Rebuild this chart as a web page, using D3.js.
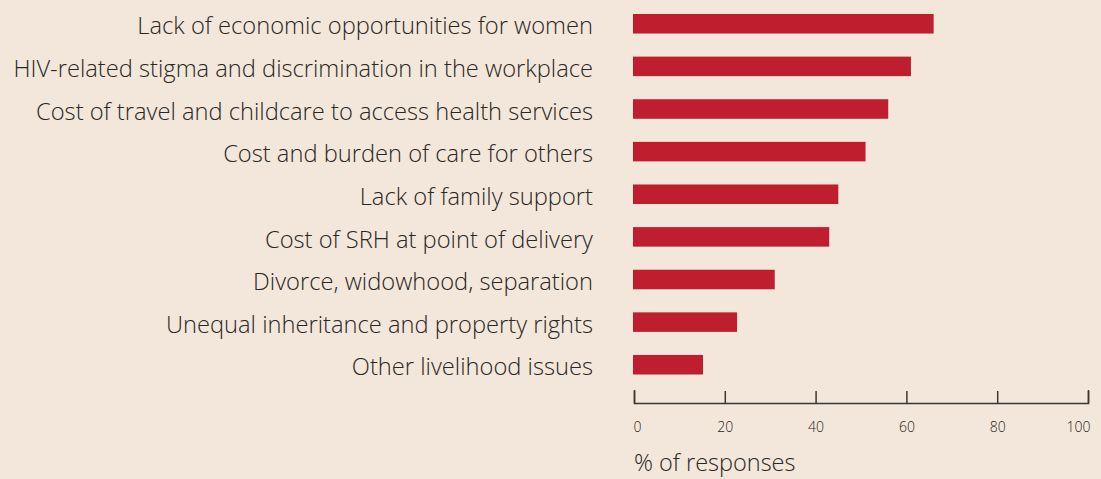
<!DOCTYPE html>
<html>
<head>
<meta charset="utf-8">
<script src="https://cdn.jsdelivr.net/npm/d3@7"></script>
<style>
  html, body { margin: 0; padding: 0; background: #f2e7da; }
  svg { display: block; }
  text { font-family: "Open Sans", Lato, sans-serif; font-weight: 300; fill: #2a2624; }
</style>
</head>
<body>
<div id="chart"></div>
<script>
// Livelihood barriers reported, % of responses
const categories = [
  "Lack of economic opportunities for women",
  "HIV-related stigma and discrimination in the workplace",
  "Cost of travel and childcare to access health services",
  "Cost and burden of care for others",
  "Lack of family support",
  "Cost of SRH at point of delivery",
  "Divorce, widowhood, separation",
  "Unequal inheritance and property rights",
  "Other livelihood issues"
];
const values = [66, 61, 56, 51, 45, 43, 31, 22.7, 15.2];
const tickValues = [0, 20, 40, 60, 80, 100];
const axisTitle = "% of responses";

const width = 1101, height = 479;
const svg = d3.select("#chart").append("svg")
  .attr("width", width).attr("height", height);

svg.append("rect").attr("width", width).attr("height", height).attr("fill", "#f2e7da");

const x = d3.scaleLinear().domain([0, 100]).range([634, 1088]);
const y = d3.scaleBand().domain(categories).range([14, 374.5])
  .paddingInner(0.542).paddingOuter(0);

// bars
svg.append("g").selectAll("rect")
  .data(categories.map((c, i) => ({ c, v: values[i] })))
  .join("rect")
  .attr("x", x(0) - 1)
  .attr("y", d => y(d.c))
  .attr("width", d => x(d.v) - x(0) + 1)
  .attr("height", y.bandwidth())
  .attr("fill", "#be1e2d");

// category labels
svg.append("g").selectAll("text")
  .data(categories)
  .join("text")
  .attr("x", 593)
  .attr("y", d => y(d) + y.bandwidth() / 2)
  .attr("dy", "0.45em")
  .attr("text-anchor", "end")
  .style("font-size", "23.7px")
  .text(d => d);

// x axis, ticks pointing up
const axis = d3.axisBottom(x)
  .tickValues(tickValues)
  .tickSizeInner(-12)
  .tickSizeOuter(-13)
  .tickPadding(19)
  .tickFormat(d3.format("d"));

const gx = svg.append("g")
  .attr("transform", "translate(0,403)")
  .call(axis);
gx.selectAll("path, line").attr("stroke", "#3a3634").attr("stroke-width", 1.5);
gx.selectAll("text")
  .style("font-family", "'Open Sans', Lato, sans-serif")
  .style("font-weight", 300)
  .style("font-size", "14px")
  .attr("fill", "#2a2624")
  .attr("text-anchor", (d, i, n) => i === 0 ? "start" : (i === n.length - 1 ? "end" : "middle"))
  .attr("dx", (d, i, n) => i === 0 ? "-1px" : (i === n.length - 1 ? "2px" : 0));

svg.append("text")
  .attr("x", 634)
  .attr("y", 471)
  .style("font-size", "23.5px")
  .text(axisTitle);
</script>
</body>
</html>
